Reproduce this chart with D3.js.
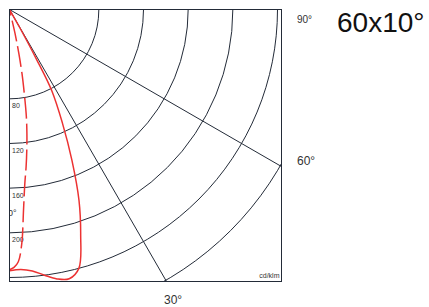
<!DOCTYPE html>
<html>
<head>
<meta charset="utf-8">
<script src="https://cdn.jsdelivr.net/npm/d3@7"></script>
<style>
  body { margin: 0; background: #fff; }
  svg { display: block; font-family: "Liberation Sans", Arial, sans-serif; }
</style>
</head>
<body>
<svg id="chart" width="429" height="307"></svg>
<script>
// polar candela curves, angle measured from downward vertical (deg), values in cd/klm
const planeC0Angles = [0, 2.5, 5, 7.5, 10, 12.5, 15, 17.5, 20, 22.5, 25, 27.5, 28.5, 29.5, 30];
const planeC0Values = [234, 233, 235, 240, 245, 247, 240, 212, 182, 146, 112, 82, 50, 18, 0];

const planeC90Angles = [0, 1, 2, 3, 4, 5, 6, 7, 8, 9, 10, 11, 12, 13, 14];
const planeC90Values = [233, 231, 226, 210, 180, 157, 142, 127, 112, 96, 76, 59, 40, 22, 0];

const ringValues = [80, 120, 160, 200, 240, 280];
const ringLabels = ["80", "120", "160", "200"];
const spokeAngles = [30, 60];

const title = "60x10°";
const unitLabel = "cd/klm";

const svg = d3.select("#chart");
const origin = { x: 9.5, y: 9.5 };
const size = 272;
const gridColor = "#232b38";
const red = "#ec3232";

const rScale = d3.scaleLinear().domain([0, 240]).range([0, 268]);
const toRad = (deg) => (Math.PI - deg * Math.PI / 180);

svg.append("defs")
  .append("clipPath")
  .attr("id", "plotClip")
  .append("rect")
  .attr("x", 0)
  .attr("y", 0)
  .attr("width", size)
  .attr("height", size);

const g = svg.append("g").attr("transform", `translate(${origin.x},${origin.y})`);
const plot = g.append("g").attr("clip-path", "url(#plotClip)");

// rings
plot.selectAll(".ring")
  .data(ringValues)
  .join("circle")
  .attr("class", "ring")
  .attr("cx", 0)
  .attr("cy", 0)
  .attr("r", (d) => rScale(d))
  .attr("fill", "none")
  .attr("stroke", gridColor)
  .attr("stroke-width", 1);

// spokes to the box edge
plot.selectAll(".spoke")
  .data(spokeAngles)
  .join("line")
  .attr("class", "spoke")
  .attr("x1", 0)
  .attr("y1", 0)
  .attr("x2", (d) => {
    const a = d * Math.PI / 180;
    const len = Math.min(size / Math.sin(a), size / Math.cos(a));
    return len * Math.sin(a);
  })
  .attr("y2", (d) => {
    const a = d * Math.PI / 180;
    const len = Math.min(size / Math.sin(a), size / Math.cos(a));
    return len * Math.cos(a);
  })
  .attr("stroke", gridColor)
  .attr("stroke-width", 1);

// ring labels
plot.selectAll(".ring-label")
  .data(ringLabels)
  .join("text")
  .attr("class", "ring-label")
  .attr("x", 2.5)
  .attr("y", (d) => rScale(+d) + 9.5)
  .style("font-size", "7px")
  .style("fill", "#333")
  .text((d) => d);

// clipped 0° label
plot.append("text")
  .attr("x", -1.5)
  .attr("y", 206.5)
  .style("font-size", "9px")
  .style("fill", "#333")
  .text("0°");

// curves
const radial = d3.lineRadial()
  .angle((d) => toRad(d[0]))
  .radius((d) => rScale(d[1]))
  .curve(d3.curveCatmullRom.alpha(0.5));

const c0 = planeC0Angles.map((a, i) => [a, planeC0Values[i]]);
const c90 = planeC90Angles.map((a, i) => [a, planeC90Values[i]]);

plot.append("path")
  .datum(c90)
  .attr("d", radial)
  .attr("fill", "none")
  .attr("stroke", red)
  .attr("stroke-width", 1.5)
  .attr("stroke-dasharray", "21 5");

plot.append("path")
  .datum(c0)
  .attr("d", radial)
  .attr("fill", "none")
  .attr("stroke", red)
  .attr("stroke-width", 1.5);

// box
g.append("rect")
  .attr("x", 0)
  .attr("y", 0)
  .attr("width", size)
  .attr("height", size)
  .attr("fill", "none")
  .attr("stroke", gridColor)
  .attr("stroke-width", 1);

g.append("text")
  .attr("x", size - 2)
  .attr("y", size - 3.5)
  .attr("text-anchor", "end")
  .style("font-size", "7px")
  .style("fill", "#333")
  .text(unitLabel);

// angle labels outside the box
svg.append("text")
  .attr("x", 297)
  .attr("y", 23)
  .style("font-size", "10px")
  .style("fill", "#333")
  .text("90°");

svg.append("text")
  .attr("x", 297)
  .attr("y", 165)
  .style("font-size", "12px")
  .style("fill", "#333")
  .text("60°");

svg.append("text")
  .attr("x", 164)
  .attr("y", 304)
  .style("font-size", "12px")
  .style("fill", "#333")
  .text("30°");

svg.append("text")
  .attr("x", 337)
  .attr("y", 32)
  .style("font-size", "28px")
  .style("fill", "#111")
  .text(title);
</script>
</body>
</html>
